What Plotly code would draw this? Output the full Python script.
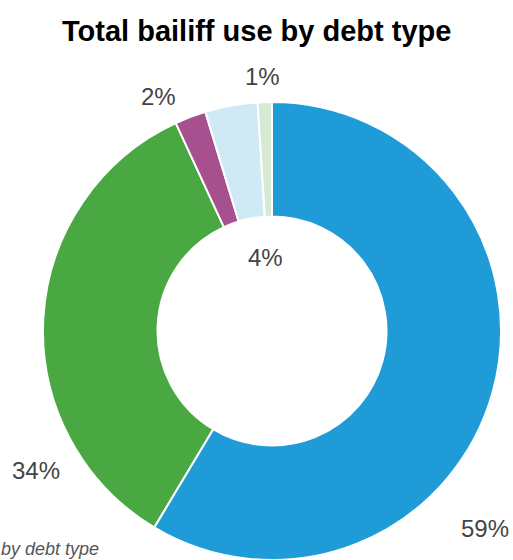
import plotly.graph_objects as go

categories = ["Council tax", "Parking", "Magistrates' fines", "Other", "Utilities"]
values = [58.6, 34.5, 2.2, 3.7, 1.0]
colors = ["#1f9bd8", "#4aa843", "#a6508f", "#cfe9f5", "#d6e9d3"]
label_text = ["59%", "34%", "2%", "4%", "1%"]
# label positions (pixels from top-left)
label_px = [(485, 528), (36, 470), (158, 96), (265, 258), (262, 77)]

W, H = 513, 560

fig = go.Figure(go.Pie(
    labels=categories,
    values=values,
    marker=dict(colors=colors, line=dict(color="white", width=2)),
    hole=0.5,
    sort=False,
    direction="clockwise",
    rotation=0,
    textinfo="none",
    hoverinfo="label+percent",
    domain=dict(x=[40 / W, 504 / W], y=[0, 1 - 102 / H]),
    showlegend=False,
))

annotations = []
for t, (px, py) in zip(label_text, label_px):
    annotations.append(dict(
        x=px / W, y=1 - py / H, xref="paper", yref="paper",
        text=t, showarrow=False, xanchor="center", yanchor="middle",
        font=dict(family="Liberation Sans, Arial, sans-serif", size=24, color="#444444"),
    ))
annotations.append(dict(
    x=0, y=0, xref="paper", yref="paper",
    text="<i>by debt type</i>", showarrow=False,
    xanchor="left", yanchor="bottom", borderpad=0,
    font=dict(family="Liberation Sans, Arial, sans-serif", size=18, color="#555555"),
))
annotations.append(dict(
    x=0.5, y=1 - 31 / H, xref="paper", yref="paper",
    text="<b>Total bailiff use by debt type</b>", showarrow=False,
    xanchor="center", yanchor="middle",
    font=dict(family="Liberation Sans, Arial, sans-serif", size=29, color="#000000"),
))

fig.update_layout(
    width=W, height=H,
    margin=dict(l=0, r=0, t=0, b=0),
    paper_bgcolor="white",
    plot_bgcolor="white",
    annotations=annotations,
)

fig.write_html("out.html")
